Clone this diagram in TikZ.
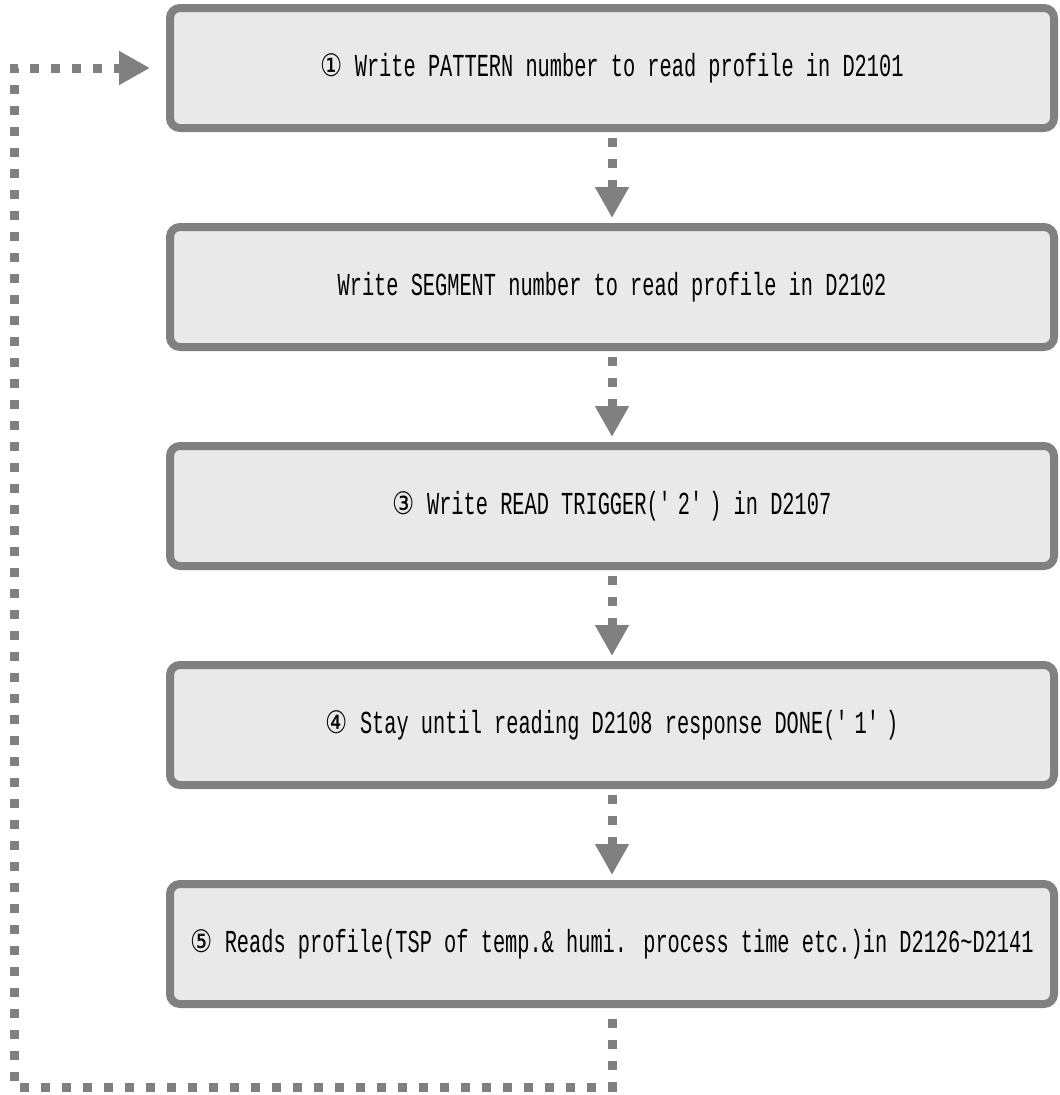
\documentclass[tikz,border=0pt]{standalone}
\usepackage{fontspec}
\setmainfont{Liberation Mono}[FakeStretch=0.635]
\newfontfamily\circf{DejaVu Sans}[FakeStretch=0.8]
\usetikzlibrary{positioning, arrows.meta}

\definecolor{boxfill}{HTML}{E9E9E9}
\definecolor{boxline}{HTML}{808080}
\newcommand{\cnum}[1]{{\circf\fontsize{31}{36}\selectfont #1}}

\begin{document}
\begin{tikzpicture}[
    x=1pt, y=1pt,
    font=\fontsize{32}{38}\selectfont,
    stepbox/.style={
        rectangle, rounded corners=10pt,
        draw=boxline, fill=boxfill, line width=8pt,
        minimum width=884pt, minimum height=120pt,
        inner sep=0pt, outer sep=0pt,
    },
    flow/.style={
        draw=boxline, line width=9pt, dash pattern=on 9pt off 12pt,
        -{Triangle[length=31pt, width=32pt]},
    },
]
\useasboundingbox (0,0) rectangle (1060,-1095);

% --- Steps, top to bottom ---
\node[stepbox] (b1) at (612,-68)
    {\cnum{①} Write PATTERN number to read profile in D2101};
\node[stepbox, below=99pt of b1] (b2)
    {Write SEGMENT number to read profile in D2102};
\node[stepbox, below=99pt of b2] (b3)
    {\cnum{③} Write READ TRIGGER(\textquotesingle2\textquotesingle) in D2107};
\node[stepbox, below=99pt of b3] (b4)
    {\cnum{④} Stay until reading D2108 response DONE(\textquotesingle1\textquotesingle)};
\node[stepbox, below=99pt of b4] (b5)
    {\cnum{⑤} Reads profile(TSP of temp.\& humi. process time etc.)in D2126\textasciitilde D2141};

% --- Arrows between steps ---
\foreach \a/\b in {b1/b2, b2/b3, b3/b4, b4/b5}{
    \draw[flow, shorten <=10pt, shorten >=9pt] (\a.south) -- (\b.north);
}

% --- Loop back to the first step ---
\coordinate (lc) at (14,-1087);
\draw[flow, shorten <=15pt, shorten >=20pt]
    (b5.south) -- (b5.south |- lc) -- (lc) |- (b1.west);

\end{tikzpicture}
\end{document}
